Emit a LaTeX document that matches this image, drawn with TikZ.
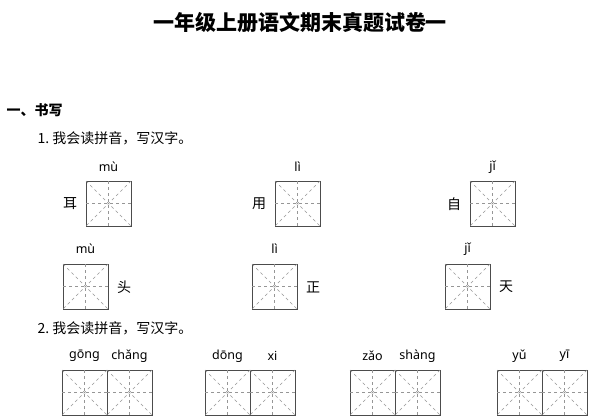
\documentclass[tikz,border=0pt]{standalone}
\usepackage{fontspec}
\setmainfont{Noto Sans}
\newfontfamily\cjk{Noto Sans CJK SC}
\definecolor{gridline}{RGB}{150,150,150}
\tikzset{
  cell/.style={draw=black!70,line width=1pt},
  guide/.style={draw=gridline,dash pattern=on 3pt off 3pt,line width=0.6pt},
  py/.style={font=\fontsize{12.5}{14}\selectfont},
  hz/.style={font=\cjk\fontsize{14}{16}\selectfont},
}
% one writing cell, upper left corner at #1,#2 (pixels)
\newcommand{\tzg}[2]{%
  \draw[cell] (#1,#2) rectangle ++(45,45);
  \draw[guide] (#1+22.5,#2) -- ++(0,45) (#1,#2+22.5) -- ++(45,0);
  \draw[guide] (#1,#2) -- ++(45,45) (#1+45,#2) -- ++(-45,45);
}
\begin{document}
\begin{tikzpicture}[x=1pt,y=-1pt]
  \useasboundingbox (0,0) rectangle (600,420);
  \node[font=\cjk\bfseries\fontsize{21}{24}\selectfont] (title) at (300,22) {一年级上册语文期末真题试卷一};
  \node[anchor=west,font=\cjk\bfseries\fontsize{14}{16}\selectfont] (sec) at (3,110) {一、书写};
  \node[anchor=west,hz] (q1) at (34,138) {1.\ 我会读拼音，写汉字。};
  \node[anchor=west,hz] (q2) at (34,328) {2.\ 我会读拼音，写汉字。};

  % row one: character left of the cell
  \foreach \x/\p/\c in {86/mù/耳, 275/lì/用, 470/jǐ/自} {
    \tzg{\x}{181}
    \node[py] at (\x+22.5,167) {\p};
    \node[hz] at (\x-16,204) {\c};
  }
  % row two: character right of the cell
  \foreach \x/\p/\c in {63/mù/头, 252/lì/正, 445/jǐ/天} {
    \tzg{\x}{264}
    \node[py] at (\x+22.5,249) {\p};
    \node[hz] at (\x+61,287) {\c};
  }
  % row three: word pairs
  \foreach \x/\p/\q in {62/gōng/chǎng, 205/dōng/xi, 350/zǎo/shàng, 497/yǔ/yī} {
    \tzg{\x}{370}
    \tzg{\x+45}{370}
    \node[py] at (\x+22.5,356) {\p};
    \node[py] at (\x+67.5,356) {\q};
  }
\end{tikzpicture}
\end{document}
